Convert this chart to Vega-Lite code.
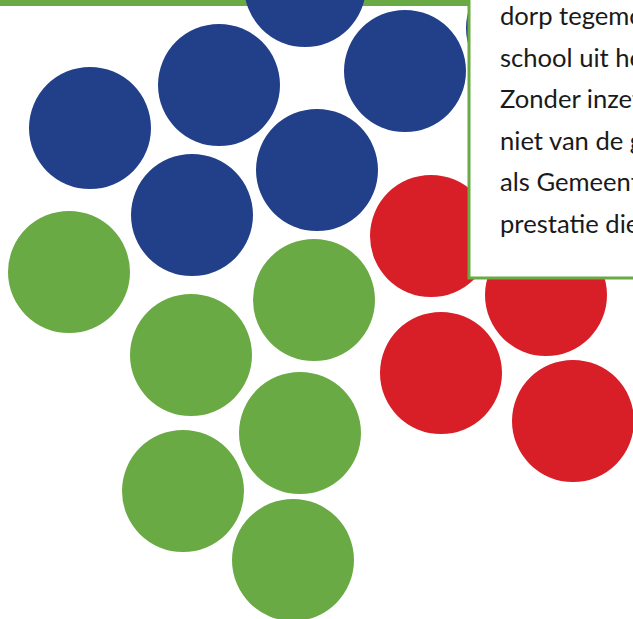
{
  "$schema": "https://vega.github.io/schema/vega-lite/v6.json",
  "width": 633,
  "height": 619,
  "autosize": {"type": "fit", "contains": "padding"},
  "padding": 0,
  "background": "white",
  "config": {"view": {"stroke": null}},
  "datasets": {
    "circles": [
      {"group": "blauw", "cx": 305, "cy": -14},
      {"group": "blauw", "cx": 219, "cy": 85},
      {"group": "blauw", "cx": 405, "cy": 71},
      {"group": "blauw", "cx": 527, "cy": 28},
      {"group": "blauw", "cx": 90, "cy": 128},
      {"group": "blauw", "cx": 317, "cy": 170},
      {"group": "blauw", "cx": 192, "cy": 215},
      {"group": "rood", "cx": 431, "cy": 236},
      {"group": "rood", "cx": 546, "cy": 295},
      {"group": "rood", "cx": 441, "cy": 373},
      {"group": "rood", "cx": 573, "cy": 421},
      {"group": "groen", "cx": 69, "cy": 272},
      {"group": "groen", "cx": 314, "cy": 300},
      {"group": "groen", "cx": 191, "cy": 355},
      {"group": "groen", "cx": 300, "cy": 433},
      {"group": "groen", "cx": 183, "cy": 491},
      {"group": "groen", "cx": 293, "cy": 560}
    ],
    "bar": [{"x": 0, "x2": 468, "y": 0, "y2": 6}],
    "box": [{"x": 469, "x2": 640, "y": -10, "y2": 278}],
    "lines": [
      {"line": "dorp tegemoet", "tx": 500, "ty": 25},
      {"line": "school uit het", "tx": 500, "ty": 66.5},
      {"line": "Zonder inzet", "tx": 500, "ty": 108},
      {"line": "niet van de grond", "tx": 500, "ty": 149.5},
      {"line": "als Gemeente", "tx": 500, "ty": 191},
      {"line": "prestatie die", "tx": 500, "ty": 232.5}
    ]
  },
  "layer": [
    {
      "data": {"name": "bar"},
      "mark": {"type": "rect", "color": "#6AAA44", "clip": true},
      "encoding": {
        "x": {"field": "x", "type": "quantitative", "scale": {"domain": [0, 633], "nice": false, "zero": false}, "axis": null},
        "x2": {"field": "x2"},
        "y": {"field": "y", "type": "quantitative", "scale": {"domain": [0, 619], "reverse": true, "nice": false, "zero": false}, "axis": null},
        "y2": {"field": "y2"}
      }
    },
    {
      "data": {"name": "circles"},
      "mark": {"type": "circle", "size": 14884, "opacity": 1, "clip": true},
      "encoding": {
        "x": {"field": "cx", "type": "quantitative", "scale": {"domain": [0, 633], "nice": false, "zero": false}, "axis": null},
        "y": {"field": "cy", "type": "quantitative", "scale": {"domain": [0, 619], "reverse": true, "nice": false, "zero": false}, "axis": null},
        "color": {"field": "group", "type": "nominal", "scale": {"domain": ["blauw", "rood", "groen"], "range": ["#22408A", "#D81F27", "#6AAA44"]}, "legend": null}
      }
    },
    {
      "data": {"name": "box"},
      "mark": {"type": "rect", "fill": "white", "stroke": "#6AAA44", "strokeWidth": 3, "clip": true},
      "encoding": {
        "x": {"field": "x", "type": "quantitative", "scale": {"domain": [0, 633], "nice": false, "zero": false}, "axis": null},
        "x2": {"field": "x2"},
        "y": {"field": "y", "type": "quantitative", "scale": {"domain": [0, 619], "reverse": true, "nice": false, "zero": false}, "axis": null},
        "y2": {"field": "y2"}
      }
    },
    {
      "data": {"name": "lines"},
      "mark": {"type": "text", "align": "left", "baseline": "alphabetic", "font": "Lato", "fontSize": 25.6, "color": "#1a1a1a", "clip": true},
      "encoding": {
        "x": {"field": "tx", "type": "quantitative", "scale": {"domain": [0, 633], "nice": false, "zero": false}, "axis": null},
        "y": {"field": "ty", "type": "quantitative", "scale": {"domain": [0, 619], "reverse": true, "nice": false, "zero": false}, "axis": null},
        "text": {"field": "line"}
      }
    }
  ]
}
